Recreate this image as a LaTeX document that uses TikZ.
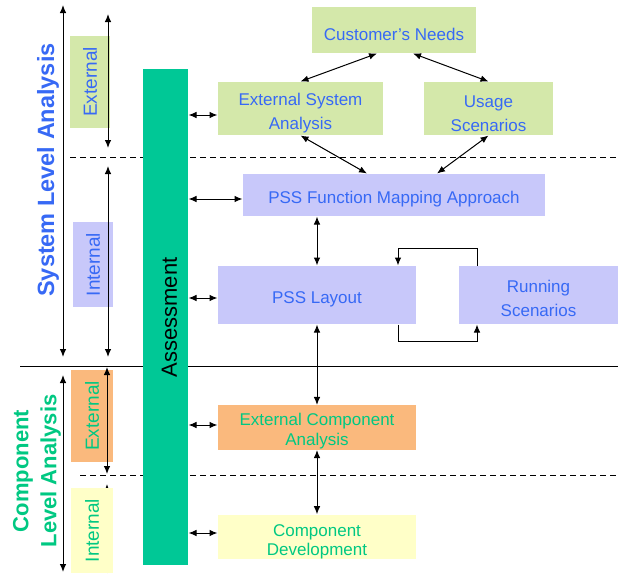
\documentclass[tikz,border=0pt]{standalone}
\usepackage{fontspec}
\setmainfont{Liberation Sans}
\usetikzlibrary{arrows.meta}

\definecolor{boxgreen}{RGB}{212,232,170}
\definecolor{boxblue}{RGB}{200,200,250}
\definecolor{boxorange}{RGB}{250,185,125}
\definecolor{boxyellow}{RGB}{255,255,200}
\definecolor{barteal}{RGB}{0,200,150}
\definecolor{textblue}{RGB}{55,105,245}
\definecolor{textgreen}{RGB}{0,200,130}

\begin{document}
\begin{tikzpicture}[x=1pt,y=-1pt,<->,>={Latex[length=8pt,width=6.5pt]},line width=1pt,
    box/.style={rectangle,inner sep=0pt,align=center,text height=21pt,font=\fontsize{17}{24}\selectfont},
    sysbox/.style={box,fill=boxgreen,text=textblue},
    pssbox/.style={box,fill=boxblue,text=textblue},
    extbox/.style={box,fill=boxorange,text=textgreen,font=\fontsize{17}{20}\selectfont},
    devbox/.style={box,fill=boxyellow,text=textgreen,font=\fontsize{17}{19}\selectfont},
    side/.style={rectangle,inner sep=0pt,minimum height=40pt,rotate=90,font=\fontsize{19}{22}\selectfont},
    level/.style={rotate=90,align=center,font=\fontsize{22}{28}\selectfont\bfseries},
    border/.style={-,line width=1pt},
    split/.style={-,line width=1pt,dash pattern=on 6pt off 4pt}]

    \useasboundingbox (0,0) rectangle (618,573);

    % level borders
    \draw[border] (20,366) -- (618,366);
    \draw[split] (70,157) -- (618,157);
    \draw[split] (80,475) -- (618,475);

    \coordinate (cintTip) at (107,484);
    \coordinate (cintTail) at (107,573);
    \draw[->] (cintTail) -- (cintTip);

    % side labels
    \node[side,fill=boxgreen,text=textblue,minimum width=92pt] (sysext) at (90,82) {External};
    \node[side,fill=boxblue,text=textblue,minimum width=85pt] (sysint) at (93,264.5) {Internal};
    \node[side,fill=boxorange,text=textgreen,minimum width=92pt,minimum height=42pt] (compext) at (92,416) {External};
    \node[side,fill=boxyellow,text=textgreen,minimum width=85pt,minimum height=42pt] (compint) at (92,530.5) {Internal};

    \node[level,text=textblue,font=\fontsize{23.5}{28}\selectfont\bfseries] (syslevel) at (48,170) {System Level Analysis};
    \node[level,text=textgreen] (complevel) at (37,471) {Component\\Level Analysis};

    % assessment bar
    \node[rectangle,fill=barteal,minimum width=45pt,minimum height=496pt,inner sep=0pt] (assess) at (165.5,317) {};
    \node[rotate=90,inner sep=0pt,font=\fontsize{22}{26}\selectfont] (assesstext) at (169.5,317.5) {Assessment};

    % process boxes
    \node[sysbox,minimum width=164pt,minimum height=46pt] (need) at (394,30) {Customer's Needs};
    \node[sysbox,minimum width=165pt,minimum height=53pt,text height=46pt] (esa) at (300.5,108.5) {External System\\Analysis};
    \node[sysbox,minimum width=129pt,minimum height=53pt,text height=46pt] (usage) at (488.5,108.5) {Usage\\Scenarios};
    \node[pssbox,minimum width=302pt,minimum height=42pt] (pssf) at (394,195) {PSS Function Mapping Approach};
    \node[pssbox,minimum width=198pt,minimum height=58pt] (layout) at (317,295) {PSS Layout};
    \node[pssbox,minimum width=159pt,minimum height=58pt,text height=43.5pt] (running) at (538.5,295) {Running\\Scenarios};
    \node[extbox,minimum width=198pt,minimum height=43pt,text height=40.5pt] (eca) at (317,427.5) {External Component\\Analysis};
    \node[devbox,minimum width=198pt,minimum height=42pt,text height=41pt] (cd) at (317,537) {Component\\Development};

    % scope arrows on the left
    \coordinate (sysTop) at (63,5);
    \coordinate (sysBot) at (63,357);
    \coordinate (extTop) at (108,14);
    \coordinate (extBot) at (108,148);
    \coordinate (intTop) at (108,166);
    \coordinate (intBot) at (108,357);
    \coordinate (compTop) at (63,375);
    \coordinate (compBot) at (63,572);
    \coordinate (cextTop) at (107,367);
    \coordinate (cextBot) at (107,474);

    \draw (sysTop) -- (sysBot);
    \draw (extTop) -- (extBot);
    \draw (intTop) -- (intBot);
    \draw (compTop) -- (compBot);
    \draw (cextTop) -- (cextBot);

    % flow between boxes
    \path ([xshift=-17pt]need.south) edge (esa.north)
          ([xshift=19pt]need.south) edge (usage.north)
          (esa.south) edge ([xshift=-27pt]pssf.north)
          (usage.south) edge ([xshift=43pt]pssf.north)
          (layout.north |- pssf.south) edge (layout.north)
          (layout.south) edge (eca.north)
          (eca.south) edge (cd.north);

    % scenario loop
    \draw[->] ([xshift=-61.5pt]running.north) -- ++(0,-17) -| ([xshift=81pt]layout.north);
    \draw[->] ([xshift=81pt]layout.south) -- ++(0,17) -| ([xshift=-61.5pt]running.south);

    % assessment links
    \foreach \n/\s in {esa/-6.5,pssf/-4,layout/-3,eca/2.5,cd/4} {
        \coordinate (t) at ([yshift=\s pt]\n.west);
        \draw (assess.east |- t) -- (t);
    }

\end{tikzpicture}
\end{document}
